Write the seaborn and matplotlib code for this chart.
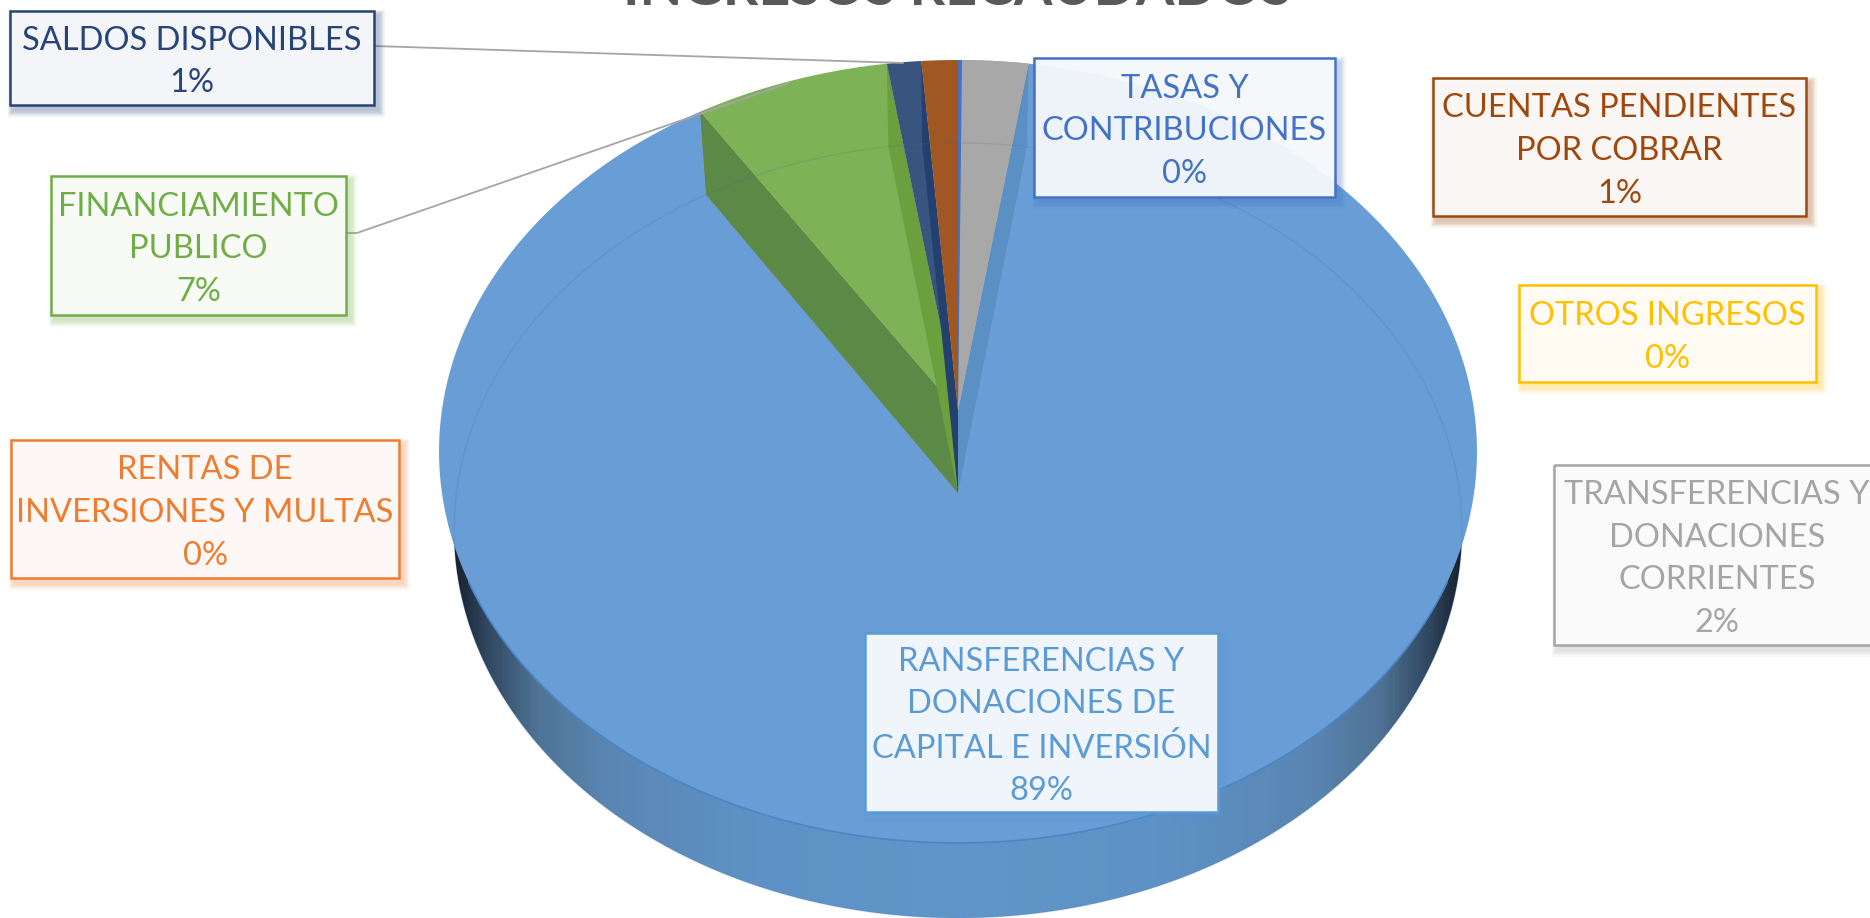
import numpy as np
import seaborn as sns
from matplotlib import pyplot as plt
from matplotlib.colors import LinearSegmentedColormap, to_rgb
from matplotlib.patches import Polygon, Rectangle

# Clockwise from 12 o'clock
categories = [
    "TASAS Y\nCONTRIBUCIONES",
    "OTROS INGRESOS",
    "TRANSFERENCIAS Y\nDONACIONES\nCORRIENTES",
    "RANSFERENCIAS Y\nDONACIONES DE\nCAPITAL E INVERSIÓN",
    "RENTAS DE\nINVERSIONES Y MULTAS",
    "FINANCIAMIENTO\nPUBLICO",
    "SALDOS DISPONIBLES",
    "CUENTAS PENDIENTES\nPOR COBRAR",
]
values = [0.12, 0.02, 2.27, 88.44, 0.02, 6.70, 1.18, 1.25]
percent_labels = ["0%", "0%", "2%", "89%", "0%", "7%", "1%", "1%"]
colors = ["#4472C4", "#FFC000", "#A5A5A5", "#5B9BD5", "#ED7D31", "#70AD47", "#264478", "#9E480E"]
top_colors = ["#4472C4", "#FFC000", "#A8A8A8", "#689ED5", "#ED7D31", "#7DB356", "#38557F", "#A05722"]
wall_colors = ["#3A62A8", "#D9A300", "#8F8F8F", "#5A90C4", "#C96A2A", "#5A8A46", "#24406E", "#85450F"]
right_wall_colors = ["#3A62A8", "#D9A300", "#9A9A9A", "#5A90C4", "#C96A2A", "#6BA03F", "#24406E", "#8A4A18"]

# label boxes: left, top, right, bottom in pixels
boxes = [
    (1034, 58, 1335, 197),
    (1519, 285, 1816, 382),
    (1554, 465, 1880, 645),
    (865, 633, 1218, 812),
    (11, 440, 399, 578),
    (51, 176, 346, 315),
    (10, 11, 374, 105),
    (1433, 78, 1806, 216),
]

W, H = 1870, 918
CX = 958
# perspective of the upper and lower discs: apex y, half widths, depth, tilt
UPPER = dict(y0=411, a=516.2, b=387.3, k=0.1034)
LOWER = dict(y0=493, a=501.6, b=383.9, k=0.0967)


def project(theta, r, disc):
    # unit disc to screen, theta in degrees as ax.pie gives it
    x = r * np.cos(np.radians(theta))
    y = r * np.sin(np.radians(theta))
    d = 1 + disc["k"] * y
    return CX + disc["a"] * x / d, disc["y0"] - disc["b"] * y / d


def face(theta1, theta2, disc):
    th = np.linspace(theta1, theta2, 400)
    xs, ys = project(th, 1.0, disc)
    return np.vstack([[CX, disc["y0"]], np.column_stack([xs, ys])])


def wall(theta):
    ux, uy = project(theta, 1.0, UPPER)
    lx, ly = project(theta, 1.0, LOWER)
    return [(CX, UPPER["y0"]), (ux, uy), (lx, ly), (CX, LOWER["y0"])]


sns.set_theme(style="white")
plt.rcParams["font.family"] = ["Lato", "DejaVu Sans"]

fig, ax = plt.subplots(figsize=(W / 100, H / 100), dpi=100)
fig.subplots_adjust(0, 0, 1, 1)

wedges, _ = ax.pie(values, startangle=90, counterclock=False, colors=colors)
angles = [(w.theta1, w.theta2) for w in wedges]
for w in wedges:
    w.remove()
ax.set_aspect("auto")
ax.set_xlim(0, W)
ax.set_ylim(H, 0)
ax.axis("off")

BLUE = 3

# side wall of the big slice, darkening towards both ends
wall_cmap = LinearSegmentedColormap.from_list(
    "wall",
    [(0.0, "#18222f"), (0.03, "#2f4660"), (0.08, "#4f7394"), (0.15, "#5a86b3"), (0.3, "#5e92c6"),
     (0.5, "#6096C9"), (0.7, "#5e92c6"), (0.85, "#5a86b3"), (0.92, "#4f7394"), (0.97, "#2f4660"), (1.0, "#18222f")],
)
lower_patch = Polygon(face(*angles[BLUE], LOWER), closed=True, transform=ax.transData)
img = ax.imshow(
    np.linspace(0, 1, 600).reshape(1, -1),
    cmap=wall_cmap,
    extent=(CX - 505, CX + 505, H, 0),
    aspect="auto",
    zorder=1,
)
img.set_clip_path(lower_patch)
ax.set_xlim(0, W)
ax.set_ylim(H, 0)

ax.add_patch(Polygon(face(*angles[BLUE], UPPER), closed=True, fc=top_colors[BLUE], ec="none", zorder=2))

# small slices, going back from the green one to the grey one
z = 3.0
for i in [4, 5, 6, 7, 0, 1, 2]:
    t_right, t_left = angles[i]
    if i == 5:
        ax.add_patch(Polygon(wall(t_left), closed=True, fc=wall_colors[i], ec="none", zorder=z))
    ax.add_patch(Polygon(face(t_left, t_right, UPPER), closed=True, fc=top_colors[i], ec="none", zorder=z + 0.1))
    ax.add_patch(Polygon(wall(t_right), closed=True, fc=right_wall_colors[i], ec="none", zorder=z + 0.2))
    z += 1
# the grey slice has no wall of its own showing, the blue strip sits beside it
ax.add_patch(Polygon(wall(angles[BLUE][1]), closed=True, fc=wall_colors[BLUE], ec="none", zorder=z))
ax.add_patch(Polygon(face(*angles[2][::-1], UPPER), closed=True, fc=top_colors[2], ec="none", zorder=z + 0.1))
ax.add_patch(Polygon(face(*angles[0][::-1], UPPER), closed=True, fc=top_colors[0], ec="none", zorder=z + 0.2))

# rims: the far arc of the lower disc shows through faintly
xs, ys = project(np.linspace(0, 360, 720), 1.0, LOWER)
ax.plot(xs, ys, color="#3f6f9f", lw=1, alpha=0.18, zorder=z + 1)
xs, ys = project(np.linspace(205, 335, 500), 1.0, UPPER)
ax.plot(xs, ys, color="#4a86c5", lw=1.2, zorder=z + 1)

# leader lines
leader_x = [374, 903]
leader_y = [46, 63]
ax.plot(leader_x, leader_y, color="#A5A5A5", lw=1.3, zorder=z + 2)
leader_x = [346, 357, 789]
leader_y = [233, 233, 83]
ax.plot(leader_x, leader_y, color="#A5A5A5", lw=1.3, zorder=z + 2)

# label boxes
z_box = z + 3
for name, pct, color, (x0, y0, x1, y1) in zip(categories, percent_labels, colors, boxes):
    for n in range(5):
        grow = (5 - n) * 1.3
        ax.add_patch(Rectangle((x0 + 4 - grow, y0 + 5 - grow), x1 - x0 + 2 * grow, y1 - y0 + 2 * grow,
                               fc=color, ec="none", alpha=0.07, zorder=z_box))
    r, g, b = to_rgb(color)
    tint = (0.97 + 0.03 * r, 0.97 + 0.03 * g, 0.97 + 0.03 * b)
    ax.add_patch(Rectangle((x0, y0), x1 - x0, y1 - y0, fc="white", ec="none", alpha=0.55, zorder=z_box + 0.1))
    ax.add_patch(Rectangle((x0, y0), x1 - x0, y1 - y0, fc=tint, ec="none", alpha=0.85, zorder=z_box + 0.15))
    ax.add_patch(Rectangle((x0, y0), x1 - x0, y1 - y0, fc="none", ec=color, lw=1.8, zorder=z_box + 0.2))
    ax.text((x0 + x1) / 2, (y0 + y1) / 2 + 4, name + "\n" + pct, color=color, fontsize=23.5,
            ha="center", va="center", linespacing=1.53, zorder=z_box + 0.3)

# title runs off the top of the picture
ax.text(957, 5, "INGRESOS RECAUDADOS", color="#595959", fontsize=40, fontweight="bold",
        ha="center", va="baseline", zorder=z_box)

fig.savefig("out.png", dpi=100)
